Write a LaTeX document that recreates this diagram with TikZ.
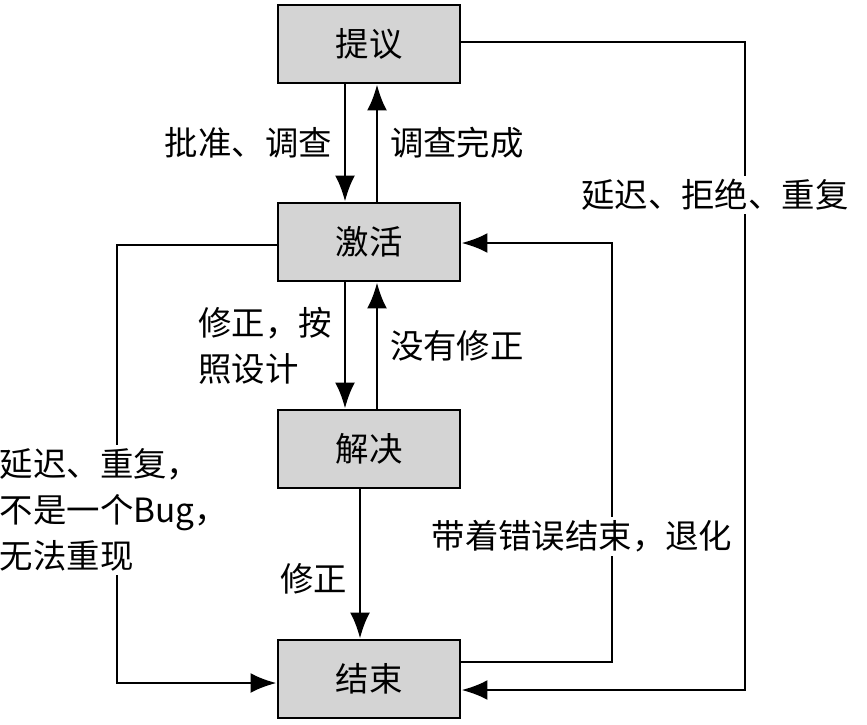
\documentclass[tikz,border=0pt]{standalone}
\usepackage{fontspec}
\setmainfont{Noto Sans CJK SC}
\usetikzlibrary{arrows.meta,positioning}

\begin{document}
\begin{tikzpicture} [
		x = 0.01cm,
		y = -0.01cm,
		font = \fontsize{9.5}{13}\selectfont,
		state/.style = {
			rectangle,
			draw,
			thick,
			fill = black!17,
			minimum width = 1.82cm,
			minimum height = 0.78cm
		},
		edge/.style = {
			-{Latex[length=2.6mm,width=2mm]},
			thick
		},
		label/.style = {
			fill = white,
			inner sep = 1pt
		}
	]
	\useasboundingbox (0,0) rectangle (867,724);

	\node[state] (proposed) at (369,44) {提议};
	\node[state] (active) at (369,242) {激活};
	\node[state] (resolved) at (369,449) {解决};
	\node[state] (closed) at (369,679) {结束};

	\coordinate (p-right) at (745,42);
	\coordinate (p-corner) at (745,690);
	\coordinate (a-left) at (117,245);
	\coordinate (a-corner) at (117,683);
	\coordinate (c-right) at (612,662);
	\coordinate (c-corner) at (612,243);

	\draw[edge] (proposed.south -| 345,0) -- node[left] {批准、调查} (active.north -| 345,0);
	\draw[edge] (active.north -| 377,0) -- node[right] {调查完成} (proposed.south -| 377,0);
	\draw[edge] (active.south -| 345,0) -- node[left, align = left] {修正，按\\照设计} (resolved.north -| 345,0);
	\draw[edge] (resolved.north -| 377,0) -- node[right] {没有修正} (active.south -| 377,0);
	\draw[edge] (resolved.south -| 360,0) -- node[left, pos = 0.6] {修正} (closed.north -| 360,0);

	\draw[edge] (proposed.east |- p-right) -- (p-right) -- node[label, pos = 0.236, xshift = -0.3cm] {延迟、拒绝、重复} (p-corner) -- (closed.east |- p-corner);
	\draw[edge] (active.west |- a-left) -- (a-left) -- node[label, align = left, pos = 0.605, xshift = -0.03cm] {延迟、重复，\\不是一个Bug，\\无法重现} (a-corner) -- (closed.west |- a-corner);
	\draw[edge] (closed.east |- c-right) -- (c-right) -- node[label, pos = 0.3, xshift = -0.3cm] {带着错误结束，退化} (c-corner) -- (active.east |- c-corner);
\end{tikzpicture}
\end{document}
